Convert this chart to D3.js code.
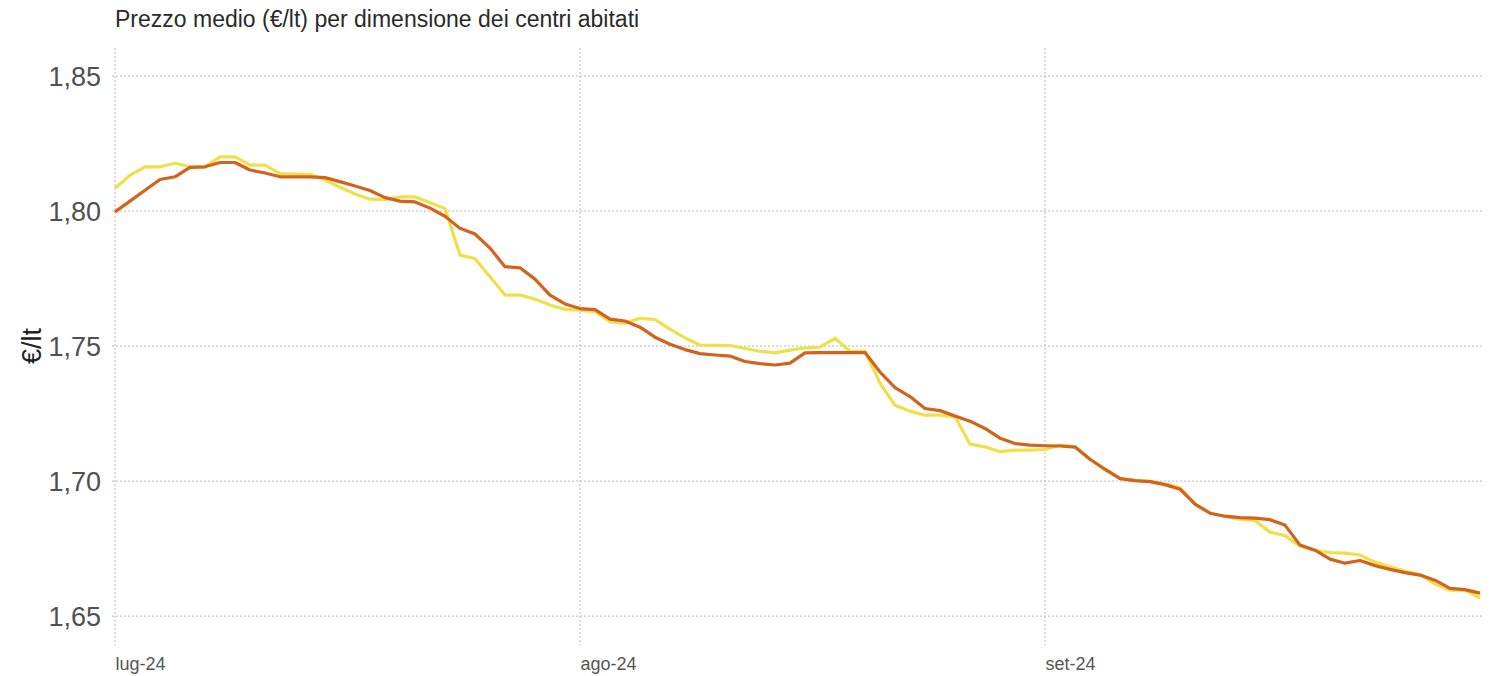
<!DOCTYPE html>
<html>
<head>
<meta charset="utf-8">
<script src="https://cdn.jsdelivr.net/npm/d3@7"></script>
<style>
  html, body { margin: 0; padding: 0; background: #ffffff; }
  svg { display: block; }
  text { font-family: "Liberation Sans", Arial, sans-serif; }
</style>
</head>
<body>
<svg id="chart" width="1494" height="676"></svg>
<script>
// ---- data ----
const title = "Prezzo medio (€/lt) per dimensione dei centri abitati";
const yAxisTitle = "€/lt";
const startDate = "2024-07-01";
const xTickDates = ["2024-07-01", "2024-08-01", "2024-09-01"];
const xTickLabels = ["lug-24", "ago-24", "set-24"];
const yTicks = [1.65, 1.70, 1.75, 1.80, 1.85];

// daily average price, 1 Jul – 30 Sep 2024
const seriesOrange = [
  1.7997, 1.8037, 1.8077, 1.8117, 1.8127, 1.8162, 1.8164, 1.8180, 1.8180, 1.8152,
  1.8141, 1.8127, 1.8127, 1.8127, 1.8124, 1.8109, 1.8093, 1.8076, 1.8050, 1.8037,
  1.8034, 1.8011, 1.7981, 1.7936, 1.7915, 1.7863, 1.7794, 1.7790, 1.7748, 1.7689,
  1.7656, 1.7639, 1.7635, 1.7600, 1.7593, 1.7570, 1.7533, 1.7507, 1.7487, 1.7472,
  1.7467, 1.7463, 1.7443, 1.7435, 1.7430, 1.7437, 1.7475, 1.7476, 1.7476, 1.7476,
  1.7476, 1.7404, 1.7346, 1.7313, 1.7269, 1.7261, 1.7241, 1.7222, 1.7195, 1.7159,
  1.7139, 1.7133, 1.7131, 1.7130, 1.7126, 1.7081, 1.7044, 1.7009, 1.7002, 1.6998,
  1.6987, 1.6970, 1.6915, 1.6881, 1.6870, 1.6865, 1.6863, 1.6857, 1.6837, 1.6763,
  1.6744, 1.6711, 1.6696, 1.6706, 1.6687, 1.6673, 1.6661, 1.6652, 1.6633, 1.6603,
  1.6598, 1.6585
];
const seriesYellow = [
  1.8084, 1.8133, 1.8164, 1.8164, 1.8177, 1.8164, 1.8164, 1.8201, 1.8201, 1.8170,
  1.8170, 1.8139, 1.8137, 1.8136, 1.8115, 1.8088, 1.8063, 1.8044, 1.8043, 1.8053,
  1.8053, 1.8031, 1.8010, 1.7837, 1.7824, 1.7757, 1.7689, 1.7689, 1.7674, 1.7652,
  1.7636, 1.7633, 1.7628, 1.7590, 1.7585, 1.7603, 1.7599, 1.7563, 1.7530, 1.7504,
  1.7503, 1.7502, 1.7491, 1.7481, 1.7475, 1.7485, 1.7493, 1.7496, 1.7529, 1.7481,
  1.7481, 1.7363, 1.7281, 1.7259, 1.7244, 1.7244, 1.7238, 1.7137, 1.7127, 1.7109,
  1.7115, 1.7115, 1.7117, 1.7133, 1.7128, 1.7081, 1.7041, 1.7011, 1.7002, 1.6999,
  1.6989, 1.6976, 1.6915, 1.6881, 1.6869, 1.6859, 1.6854, 1.6811, 1.6798, 1.6759,
  1.6743, 1.6735, 1.6733, 1.6726, 1.6700, 1.6683, 1.6667, 1.6654, 1.6619, 1.6596,
  1.6596, 1.6567
];

// ---- chart ----
const svg = d3.select("#chart");
const parse = d3.timeParse("%Y-%m-%d");
const start = parse(startDate);
const dates = seriesOrange.map((_, i) => d3.timeDay.offset(start, i));

const x = d3.scaleTime()
  .domain([start, dates[dates.length - 1]])
  .range([115, 1480]);
const y = d3.scaleLinear()
  .domain([1.6393, 1.8604])
  .range([645, 48]);

const gridColor = "#b8b8b8";

// horizontal grid
svg.append("g")
  .selectAll("line")
  .data(yTicks)
  .join("line")
  .attr("x1", 112)
  .attr("x2", 1482)
  .attr("y1", d => y(d))
  .attr("y2", d => y(d))
  .attr("stroke", gridColor)
  .attr("stroke-width", 1)
  .attr("stroke-dasharray", "2,2");

// vertical grid
svg.append("g")
  .selectAll("line")
  .data(xTickDates.map(parse))
  .join("line")
  .attr("x1", d => x(d))
  .attr("x2", d => x(d))
  .attr("y1", 48)
  .attr("y2", 645)
  .attr("stroke", gridColor)
  .attr("stroke-width", 1)
  .attr("stroke-dasharray", "2,2");

// y axis labels
const yAxis = d3.axisLeft(y)
  .tickValues(yTicks)
  .tickSize(0)
  .tickPadding(0)
  .tickFormat(d => d3.format(".2f")(d).replace(".", ","));
const gy = svg.append("g").attr("transform", "translate(101,0)").call(yAxis);
gy.select(".domain").remove();
gy.selectAll("text")
  .attr("font-size", 27)
  .attr("fill", "#505050")
  .attr("dy", "0.36em")
  .style("font-family", "'Liberation Sans', Arial, sans-serif");

// x axis labels
const xAxis = d3.axisBottom(x)
  .tickValues(xTickDates.map(parse))
  .tickSize(0)
  .tickPadding(0)
  .tickFormat((d, i) => xTickLabels[i]);
const gx = svg.append("g").attr("transform", "translate(0,657)").call(xAxis);
gx.select(".domain").remove();
gx.selectAll("text")
  .attr("text-anchor", "start")
  .attr("font-size", 18)
  .attr("fill", "#555")
  .attr("dy", "0.71em")
  .style("font-family", "'Liberation Sans', Arial, sans-serif");

// lines
const line = d3.line()
  .x((d, i) => x(dates[i]))
  .y(d => y(d));

svg.append("path")
  .datum(seriesYellow)
  .attr("fill", "none")
  .attr("stroke", "#efe04a")
  .attr("stroke-width", 3.2)
  .attr("stroke-linejoin", "round")
  .attr("d", line);

svg.append("path")
  .datum(seriesOrange)
  .attr("fill", "none")
  .attr("stroke", "#d2621c")
  .attr("stroke-width", 3.2)
  .attr("stroke-linejoin", "round")
  .attr("d", line);

// title
svg.append("text")
  .attr("x", 115)
  .attr("y", 27)
  .attr("font-size", 23)
  .attr("fill", "#2a2a2a")
  .text(title);

// y axis title
svg.append("text")
  .attr("transform", "translate(41,346) rotate(-90)")
  .attr("text-anchor", "middle")
  .attr("font-size", 27)
  .attr("fill", "#222")
  .text(yAxisTitle);
</script>
</body>
</html>
